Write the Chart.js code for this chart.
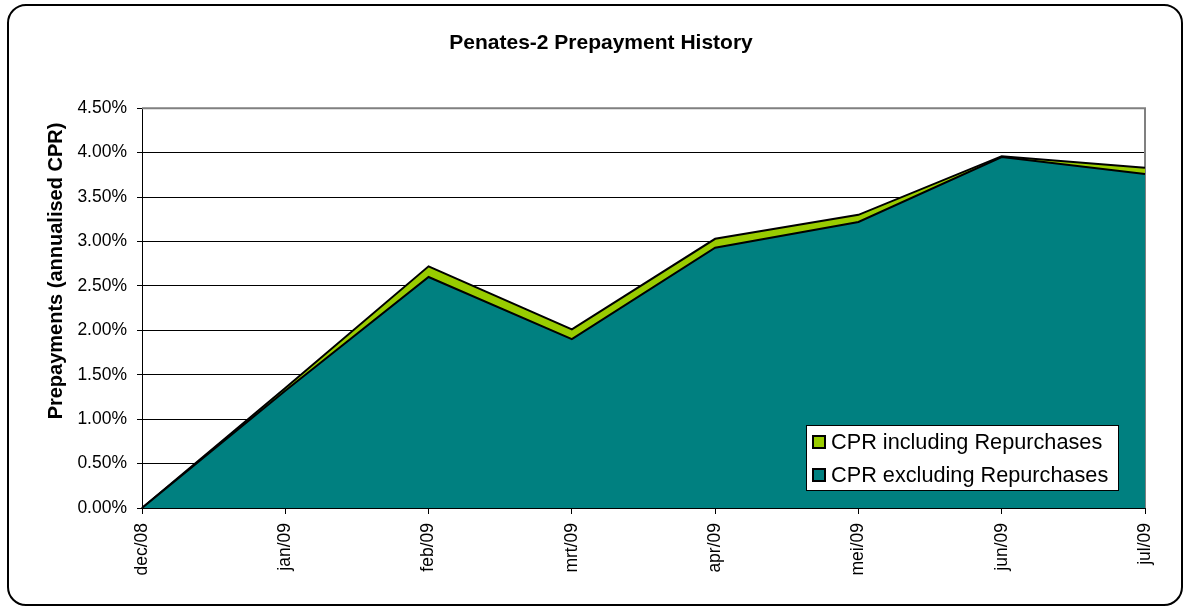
<!DOCTYPE html>
<html>
<head>
<meta charset="utf-8">
<script src="https://cdn.jsdelivr.net/npm/chart.js@4.4.1/dist/chart.umd.min.js"></script>
<style>
  html, body { margin: 0; padding: 0; background: #fff; }
  #wrap { width: 1189px; height: 612px; }
</style>
</head>
<body>
<div id="wrap"><canvas id="cprChart" width="1189" height="612"></canvas></div>
<script>
const months = ['dec/08', 'jan/09', 'feb/09', 'mrt/09', 'apr/09', 'mei/09', 'jun/09', 'jul/09'];
const cprIncl = [0.00, 1.35, 2.72, 2.01, 3.03, 3.30, 3.96, 3.83]; // % annualised
const cprExcl = [0.00, 1.32, 2.60, 1.90, 2.93, 3.22, 3.95, 3.76];
const seriesNames = ['CPR including Repurchases', 'CPR excluding Repurchases'];
const yTitle = 'Prepayments (annualised CPR)';

const FONT = 'Arial, "Liberation Sans", sans-serif';

// rounded frame around the whole chart, like the Excel chart area
const framePlugin = {
  id: 'frame',
  beforeDraw(chart) {
    const c = chart.ctx;
    c.save();
    c.fillStyle = '#fff';
    c.fillRect(0, 0, chart.width, chart.height);
    c.strokeStyle = '#000';
    c.lineWidth = 2;
    c.beginPath();
    c.roundRect(8, 5, 1174, 600, 18);
    c.stroke();
    c.restore();
  },
  beforeDatasetsDraw(chart) {
    // grey plot border top + right
    const a = chart.chartArea, c = chart.ctx;
    c.save();
    c.strokeStyle = '#808080';
    c.lineWidth = 2;
    c.beginPath();
    c.moveTo(a.left, a.top);
    c.lineTo(a.right, a.top);
    c.lineTo(a.right, a.bottom);
    c.stroke();
    c.restore();
  },
  afterDraw(chart) {
    // y axis title, sits a bit above the plot middle in the original
    const c = chart.ctx;
    c.save();
    c.translate(56, 271);
    c.rotate(-Math.PI / 2);
    c.font = 'bold 20px ' + FONT;
    c.fillStyle = '#000';
    c.textAlign = 'center';
    c.textBaseline = 'middle';
    c.fillText(yTitle, 0, 0);
    c.restore();
  }
};

// legend box drawn inside the plot area
const boxLegend = {
  id: 'boxLegend',
  afterDraw(chart) {
    const c = chart.ctx;
    const x = 806, y = 425, w = 312, h = 65;
    c.save();
    c.fillStyle = '#fff';
    c.fillRect(x, y, w, h);
    c.strokeStyle = '#000';
    c.lineWidth = 1;
    c.strokeRect(x + 0.5, y + 0.5, w, h);
    c.font = '21.7px ' + FONT;
    c.textBaseline = 'middle';
    chart.data.datasets.forEach((ds, i) => {
      const cy = y + 17 + i * 33;
      c.fillStyle = ds.backgroundColor;
      c.fillRect(813, cy - 6, 12, 12);
      c.strokeStyle = '#000';
      c.lineWidth = 2;
      c.strokeRect(813, cy - 6, 12, 12);
      c.fillStyle = '#000';
      c.fillText(ds.label, 831, cy + 1);
    });
    c.restore();
  }
};

new Chart(document.getElementById('cprChart'), {
  type: 'line',
  data: {
    labels: months,
    datasets: [
      {
        label: seriesNames[0],
        data: cprIncl,
        backgroundColor: '#99CC00',
        borderColor: '#000',
        borderWidth: 2,
        fill: 'origin',
        pointRadius: 0,
        tension: 0,
        order: 2
      },
      {
        label: seriesNames[1],
        data: cprExcl,
        backgroundColor: '#008080',
        borderColor: '#000',
        borderWidth: 2,
        fill: 'origin',
        pointRadius: 0,
        tension: 0,
        order: 1
      }
    ]
  },
  options: {
    responsive: false,
    animation: false,
    layout: { padding: { left: 57, right: 44, top: 0, bottom: 10 } },
    plugins: {
      legend: { display: false },
      tooltip: { enabled: false },
      title: {
        display: true,
        text: 'Penates-2 Prepayment History',
        color: '#000',
        font: { family: FONT, size: 21, weight: 'bold' },
        padding: { top: 31, bottom: 52 }
      }
    },
    scales: {
      x: {
        offset: false,
        afterFit: s => { s.height = 94; },
        grid: { drawOnChartArea: false, color: '#000', tickLength: 6 },
        border: { color: '#000', width: 1 },
        ticks: {
          color: '#000',
          font: { family: FONT, size: 17.5 },
          minRotation: 90,
          maxRotation: 90,
          padding: 9
        }
      },
      y: {
        min: 0,
        max: 4.5,
        afterFit: s => { s.width = 85; },
        grid: { color: '#000', tickLength: 5 },
        border: { color: '#000', width: 1 },
        ticks: {
          stepSize: 0.5,
          color: '#000',
          font: { family: FONT, size: 17.5 },
          padding: 10,
          callback: v => v.toFixed(2) + '%'
        }
      }
    }
  },
  plugins: [framePlugin, boxLegend]
});
</script>
</body>
</html>
